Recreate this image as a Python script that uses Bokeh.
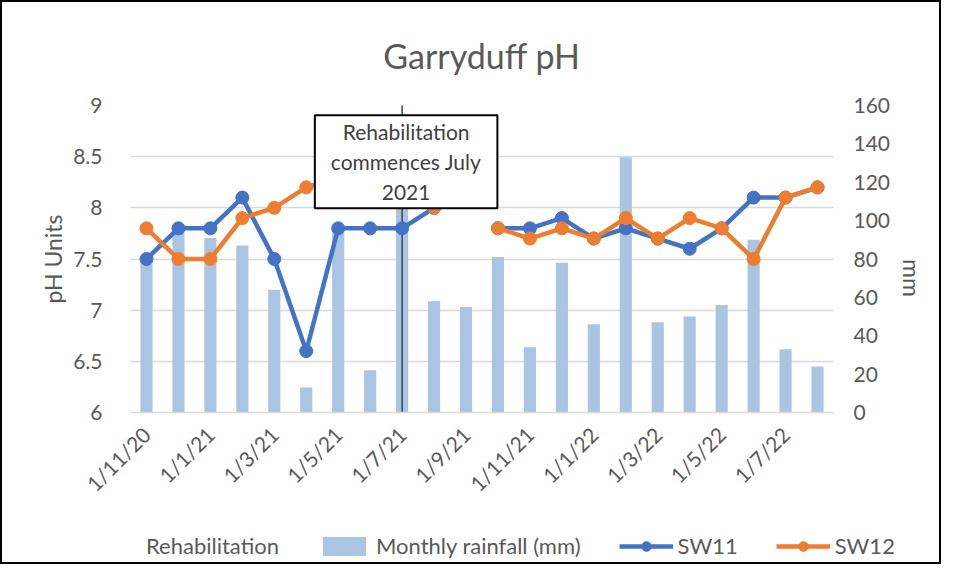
import math
from bokeh.plotting import figure
from bokeh.layouts import column
from bokeh.models import (Range1d, LinearAxis, FixedTicker, Legend, LegendItem,
                          Label, ColumnDataSource)
from bokeh.embed import file_html
from bokeh.resources import INLINE

nan = float("nan")

# ---------------- data ----------------
months = ["1/11/20", "1/12/20", "1/1/21", "1/2/21", "1/3/21", "1/4/21", "1/5/21",
          "1/6/21", "1/7/21", "1/8/21", "1/9/21", "1/10/21", "1/11/21", "1/12/21",
          "1/1/22", "1/2/22", "1/3/22", "1/4/22", "1/5/22", "1/6/22", "1/7/22", "1/8/22"]
rainfall_mm = [80, 98, 91, 87, 64, 13, 95, 22, 110, 58, 55, 81, 34, 78, 46, 133,
               47, 50, 56, 90, 33, 24]
sw11 = [7.5, 7.8, 7.8, 8.1, 7.5, 6.6, 7.8, 7.8, 7.8, 8.0, nan, 7.8, 7.8, 7.9, 7.7,
        7.8, 7.7, 7.6, 7.8, 8.1, 8.1, 8.2]
sw12 = [7.8, 7.5, 7.5, 7.9, 8.0, 8.2, 8.3, 8.3, 8.2, 8.0, nan, 7.8, 7.7, 7.8, 7.7,
        7.9, 7.7, 7.9, 7.8, 7.5, 8.1, 8.2]
tick_months = months[::2]
ph_ticks = [6, 6.5, 7, 7.5, 8, 8.5, 9]
mm_ticks = [0, 20, 40, 60, 80, 100, 120, 140, 160]
rehab_month = "1/7/21"
rehab_text = "Rehabilitation\ncommences July\n2021"

# ---------------- styles ----------------
FONT = "Lato"
TXT = "#595959"
GRID = "#d9d9d9"
BLUE = "#4472c4"
ORANGE = "#ed7d31"
BAR = "#a9c5e2"
BORDER = "2px solid black"

xs = list(range(len(months)))
src = ColumnDataSource(dict(x=xs, rain=rainfall_mm, sw11=sw11, sw12=sw12))

p = figure(width=941, height=505, output_backend="svg", toolbar_location=None,
           x_range=Range1d(-0.5, len(months) - 0.5),
           y_range=Range1d(ph_ticks[0], ph_ticks[-1]),
           min_border_left=128, min_border_right=106, min_border_top=102,
           min_border_bottom=92)
p.styles = {"border-top": BORDER, "border-left": BORDER, "border-right": BORDER}
p.extra_y_ranges = {"mm": Range1d(mm_ticks[0], mm_ticks[-1])}
p.outline_line_color = None
p.background_fill_color = "white"
p.border_fill_color = "white"

p.title.text = "Garryduff pH"
p.title.align = "center"
p.title.text_font = FONT
p.title.text_font_size = "34px"
p.title.text_font_style = "normal"
p.title.text_color = TXT
p.title.standoff = 60

# x axis
xa = p.xaxis[0]
xa.ticker = FixedTicker(ticks=[months.index(m) for m in tick_months])
xa.major_label_overrides = {months.index(m): m for m in tick_months}
xa.major_label_orientation = math.pi / 4
xa.major_tick_line_color = None
xa.minor_tick_line_color = None
xa.axis_line_color = GRID
xa.axis_line_width = 1.5
xa.major_label_text_font = FONT
xa.major_label_text_font_size = "21px"
xa.major_label_text_color = TXT
xa.major_label_standoff = 12

# left axis
ya = p.yaxis[0]
ya.ticker = FixedTicker(ticks=ph_ticks)
ya.major_label_overrides = {t: f"{t:g}" for t in ph_ticks}
ya.axis_label = "pH Units"
ya.axis_label_text_font = FONT
ya.axis_label_text_font_size = "23px"
ya.axis_label_text_font_style = "normal"
ya.axis_label_text_color = TXT
ya.axis_label_standoff = 3
ya.major_label_text_font = FONT
ya.major_label_text_font_size = "21px"
ya.major_label_text_color = TXT
ya.major_label_standoff = 22
ya.axis_line_color = None
ya.major_tick_line_color = None
ya.minor_tick_line_color = None

# right axis
ra = LinearAxis(y_range_name="mm", ticker=FixedTicker(ticks=mm_ticks),
                axis_label="mm")
ra.axis_label_text_font = FONT
ra.axis_label_text_font_size = "23px"
ra.axis_label_text_font_style = "normal"
ra.axis_label_text_color = TXT
ra.axis_label_standoff = 19
if "axis_label_orientation" in ra.properties():
    ra.axis_label_orientation = -math.pi / 2
ra.major_label_text_font = FONT
ra.major_label_text_font_size = "21px"
ra.major_label_text_color = TXT
ra.major_label_standoff = 14
ra.axis_line_color = None
ra.major_tick_line_color = None
ra.minor_tick_line_color = None
p.add_layout(ra, "right")

p.xgrid.grid_line_color = None
p.ygrid.grid_line_color = GRID
p.ygrid.grid_line_width = 1.5

# glyphs
bar_style = dict(fill_color=BAR, line_color=None)
l11_style = dict(line_color=BLUE, line_width=4.5)
m11_style = dict(size=13, fill_color=BLUE, line_color=BLUE)
l12_style = dict(line_color=ORANGE, line_width=4.5)
m12_style = dict(size=13, fill_color=ORANGE, line_color=ORANGE)

p.vbar(x="x", top="rain", width=0.38, bottom=0, source=src, y_range_name="mm", **bar_style)
rehab_idx = months.index(rehab_month)
p.ray(x=[rehab_idx], y=[ph_ticks[0]], length=0, angle=math.pi / 2,
      line_color="#3b4656", line_width=1.5)
p.line(x="x", y="sw11", source=src, **l11_style)
p.scatter(x="x", y="sw11", source=src, **m11_style)
p.line(x="x", y="sw12", source=src, **l12_style)
p.scatter(x="x", y="sw12", source=src, **m12_style)

# annotation box
lab = Label(x=rehab_idx, y=8.45, x_offset=4, text=rehab_text, text_align="center",
            text_baseline="middle", text_font=FONT, text_font_size="21px",
            text_color="#404040", text_line_height=1.2,
            background_fill_color="white", border_line_color="black",
            border_line_width=2, padding=(16, 4))
p.add_layout(lab)

# ---------------- legend strip ----------------
q = figure(width=941, height=59, output_backend="svg", toolbar_location=None,
           x_axis_type=None, y_axis_type=None, x_range=Range1d(0, 1),
           y_range=Range1d(0, 1), min_border=0)
q.styles = {"border-bottom": BORDER, "border-left": BORDER, "border-right": BORDER}
q.outline_line_color = None
q.grid.visible = False
q.background_fill_color = "white"
q.border_fill_color = "white"

can_unalign = "frame_align" in q.properties()
if can_unalign:
    p.frame_align = False
    q.frame_align = False
    leg_opts = dict(location=(85, 5), label_text_font_size="22px", glyph_width=54,
                    spacing=38, label_standoff=5)
else:
    leg_opts = dict(location=(5, 5), label_text_font_size="20px", glyph_width=44,
                    spacing=22, label_standoff=4)

d_rehab = q.scatter(x=[nan], y=[nan], fill_alpha=0, line_alpha=0)
d_bar = q.vbar(x=[nan], top=[nan], width=0.1, **bar_style)
d_l11 = q.line(x=[nan], y=[nan], **l11_style)
d_m11 = q.scatter(x=[nan], y=[nan], **m11_style)
d_l12 = q.line(x=[nan], y=[nan], **l12_style)
d_m12 = q.scatter(x=[nan], y=[nan], **m12_style)

legend = Legend(items=[
    LegendItem(label="Rehabilitation", renderers=[d_rehab]),
    LegendItem(label="Monthly rainfall (mm)", renderers=[d_bar]),
    LegendItem(label="SW11", renderers=[d_l11, d_m11]),
    LegendItem(label="SW12", renderers=[d_l12, d_m12]),
], orientation="horizontal", border_line_alpha=0, background_fill_alpha=0,
    label_text_font=FONT, label_text_color=TXT, glyph_height=24, padding=0,
    margin=0, **leg_opts)
q.add_layout(legend)

layout = column(p, q, spacing=0)
open("out.html", "w").write(file_html(layout, INLINE))
